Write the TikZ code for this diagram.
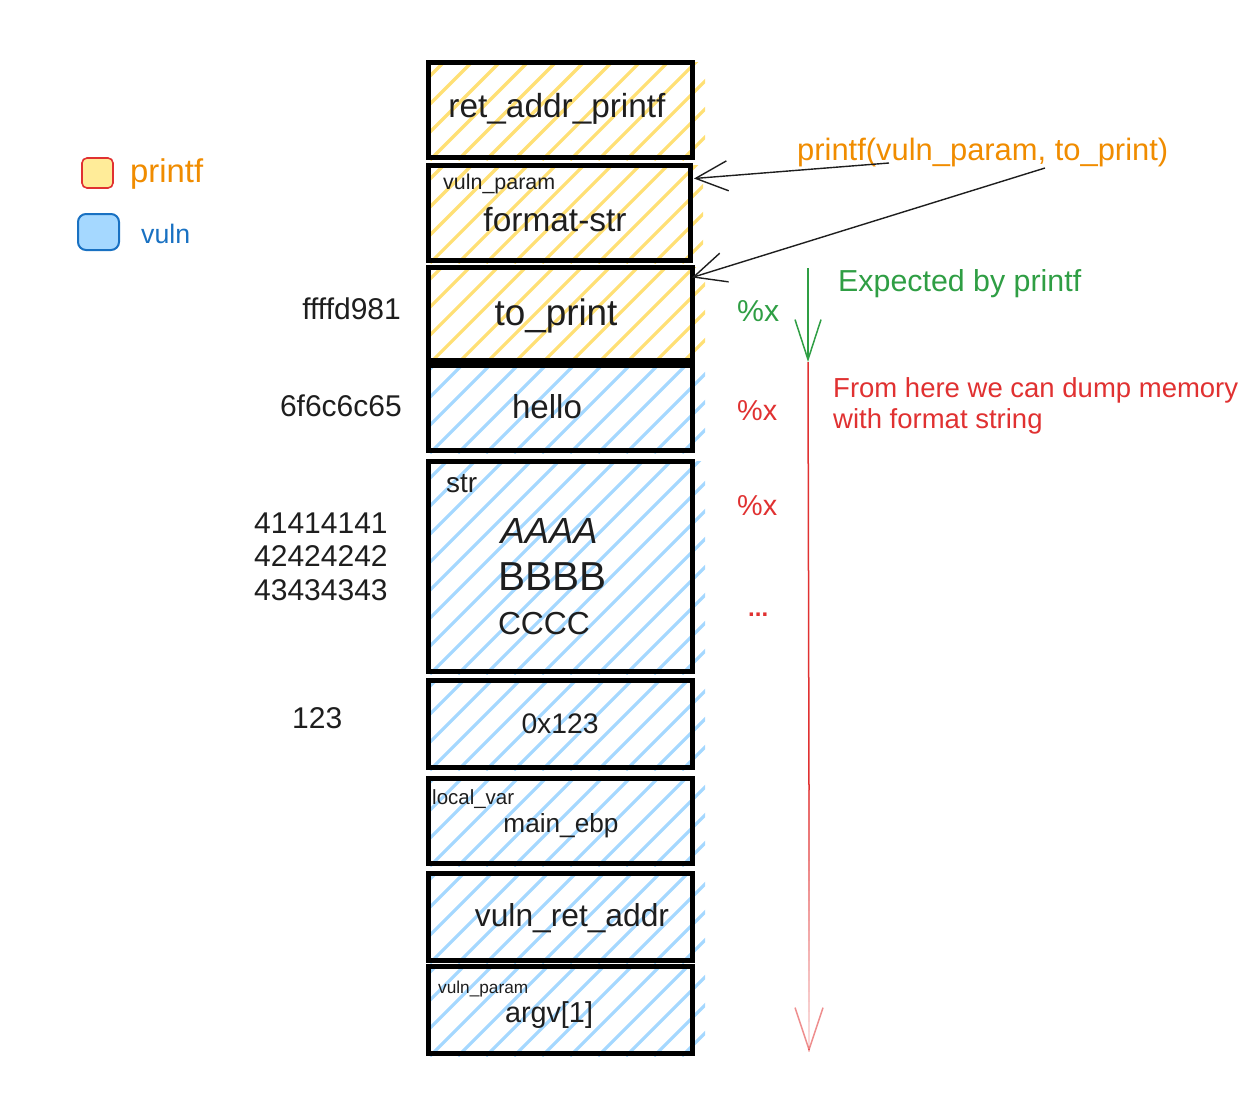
\documentclass[tikz,border=0pt]{standalone}
\usepackage{fontspec}
\setmainfont{Liberation Sans}
\usetikzlibrary{arrows.meta,calc}
\definecolor{hyel}{HTML}{FFE075}
\definecolor{hblu}{HTML}{A5D8FF}
\definecolor{cred}{HTML}{E03131}
\definecolor{cgrn}{HTML}{2F9E44}
\definecolor{corg}{HTML}{F08C00}
\definecolor{cblu}{HTML}{1971C2}
\definecolor{ink}{HTML}{1E1E1E}
\definecolor{lyel}{HTML}{FFEC99}
\newcommand{\fitw}[2]{\resizebox{#1pt}{!}{#2}}
\newcommand{\cellbox}[6]{%
  \begin{scope}
    \clip (#2,#3) rectangle ({#4+13},{#5+3});
    \foreach \k in {0,...,21}{\draw[#6,line width=3.2pt] ({#2-250+\k*28},{#5+3}) -- ++(330,-330);}
  \end{scope}
  \node[cell, minimum width={#4-#2}, minimum height={#5-#3}] (#1) at ({(#2+#4)/2},{(#3+#5)/2}) {};}
\begin{document}
\begin{tikzpicture}[x=1pt,y=-1pt,
  cell/.style={draw=black, line width=5pt, inner sep=0pt, outer sep=0pt},
  lbl/.style={inner sep=0pt, anchor=base, text=ink},
  lblw/.style={inner sep=0pt, anchor=base west, text=ink},
  lble/.style={inner sep=0pt, anchor=base east, text=ink},
  numtxt/.style={font=\fontsize{30}{36}\selectfont},
  redtxt/.style={font=\fontsize{27.5}{33}\selectfont, text=cred},
  ptr/.style={draw=ink, line width=1.4pt, -{Straight Barb[length=32pt,width=30pt,line width=1.4pt]}},
  ]
\useasboundingbox (0,0) rectangle (1249,1106);

% legend
\node[draw=cred, fill=lyel, line width=1.6pt, rounded corners=5pt, minimum width=31pt, minimum height=30pt, inner sep=0pt] (legy) at (97.5,173) {};
\node[draw=cblu, fill=hblu, line width=2pt, rounded corners=8pt, minimum width=41pt, minimum height=36pt, inner sep=0pt] (legb) at (98.5,232) {};
\node[lblw, text=corg] (legyt) at (130,182) {\fitw{73}{printf}};
\node[lblw, text=cblu] (legbt) at (141,243) {\fitw{49}{vuln}};

% stack cells
\cellbox{b1}{428}{62}{692}{157}{hyel}
\cellbox{b2}{428}{165}{690}{260}{hyel}
\cellbox{b3}{428}{267}{692}{360}{hyel}
\cellbox{b4}{428}{365}{692}{450}{hblu}
\cellbox{b5}{428}{461}{692}{671}{hblu}
\cellbox{b6}{428}{680}{692}{767}{hblu}
\cellbox{b7}{428}{778}{692}{863}{hblu}
\cellbox{b8}{428}{873}{692}{960}{hblu}
\cellbox{b9}{428}{966}{692}{1053}{hblu}

% cell texts
\node[lbl] (t1) at (557,117) {\fitw{217}{ret\_addr\_printf}};
\node[lblw] (t2s) at (443,189) {\fitw{112}{vuln\_param}};
\node[lbl] (t2) at (555,231) {\fitw{143}{format-str}};
\node[lbl] (t3) at (556,325) {\fitw{123}{to\_print}};
\node[lbl] (t4) at (547,418) {\fitw{70}{hello}};
\node[lblw] (t5s) at (446,492) {\fitw{31}{str}};
\node[lbl] (t5a) at (549,543) {\fitw{97}{\itshape AAAA}};
\node[lbl] (t5b) at (552,590) {\fitw{108}{BBBB}};
\node[lbl] (t5c) at (544,634) {\fitw{92}{CCCC}};
\node[lbl] (t6) at (560,733) {\fitw{77}{0x123}};
\node[lblw] (t7s) at (432,804) {\fitw{82}{local\_var}};
\node[lbl] (t7) at (561,832) {\fitw{115}{main\_ebp}};
\node[lbl] (t8) at (572,926) {\fitw{194}{vuln\_ret\_addr}};
\node[lblw] (t9s) at (438,993) {\fitw{90}{vuln\_param}};
\node[lbl] (t9) at (549,1022) {\fitw{88}{argv[1]}};

% left values
\node[lble, numtxt] (v1) at (401,319) {ffffd981};
\node[lble, numtxt] (v2) at (402,416) {6f6c6c65};
\node[lblw, numtxt] (v3a) at (254,533) {41414141};
\node[lblw, numtxt] (v3b) at (254,566) {42424242};
\node[lblw, numtxt] (v3c) at (254,600) {43434343};
\node[lblw, numtxt] (v4) at (292,728) {123};

% call annotation
\node[lblw, text=corg] (call) at (797,160) {\fitw{371}{printf(vuln\_param, to\_print)}};
\coordinate (s1) at (889,163);
\coordinate (s2) at (1045,168);
\draw[ptr] (s1) -- ($(b2.east)+(4,-34)$);
\draw[ptr] (s2) -- ($(b3.east)+(0,-36)$);

% expected by printf
\node[lblw, text=cgrn] (exp) at (838,291) {\fitw{243}{Expected by printf}};
\node[lblw, text=cgrn] (px1) at (737,321) {\fitw{42}{\%x}};
\node[lblw, text=cred] (px2) at (737,420) {\fitw{40}{\%x}};
\node[lblw, text=cred] (px3) at (737,515) {\fitw{40}{\%x}};
\node[lblw, text=cred, font=\bfseries] (px4) at (748,616) {\fitw{20}{...}};
\node[lblw, redtxt] (dump1) at (833,397) {From here we can dump memory};
\node[lblw, redtxt] (dump2) at (833,428) {with format string};

\coordinate (g0) at (808,268);
\coordinate (g1) at (808,362);
\coordinate (r1) at (809,790);
\coordinate (r2) at (809,1052);
\draw[cgrn, line width=1.5pt, -{Straight Barb[length=40pt,width=26pt,line width=1.5pt]}] (g0) -- (g1);
\draw[cred, line width=1.5pt] (g1) -- (r1);
\foreach \i in {0,...,25}{
  \pgfmathsetmacro{\op}{0.75-0.6*\i/25}
  \draw[cred, line width=1.5pt, opacity=\op] ($(r1)!{\i/26}!(r2)$) -- ($(r1)!{(\i+1)/26}!(r2)$);
}
\draw[cred, opacity=0.55, line width=1.5pt, -{Straight Barb[length=42pt,width=28pt,line width=1.5pt]}] ($(r2)+(0,-2)$) -- (r2);
\end{tikzpicture}
\end{document}
